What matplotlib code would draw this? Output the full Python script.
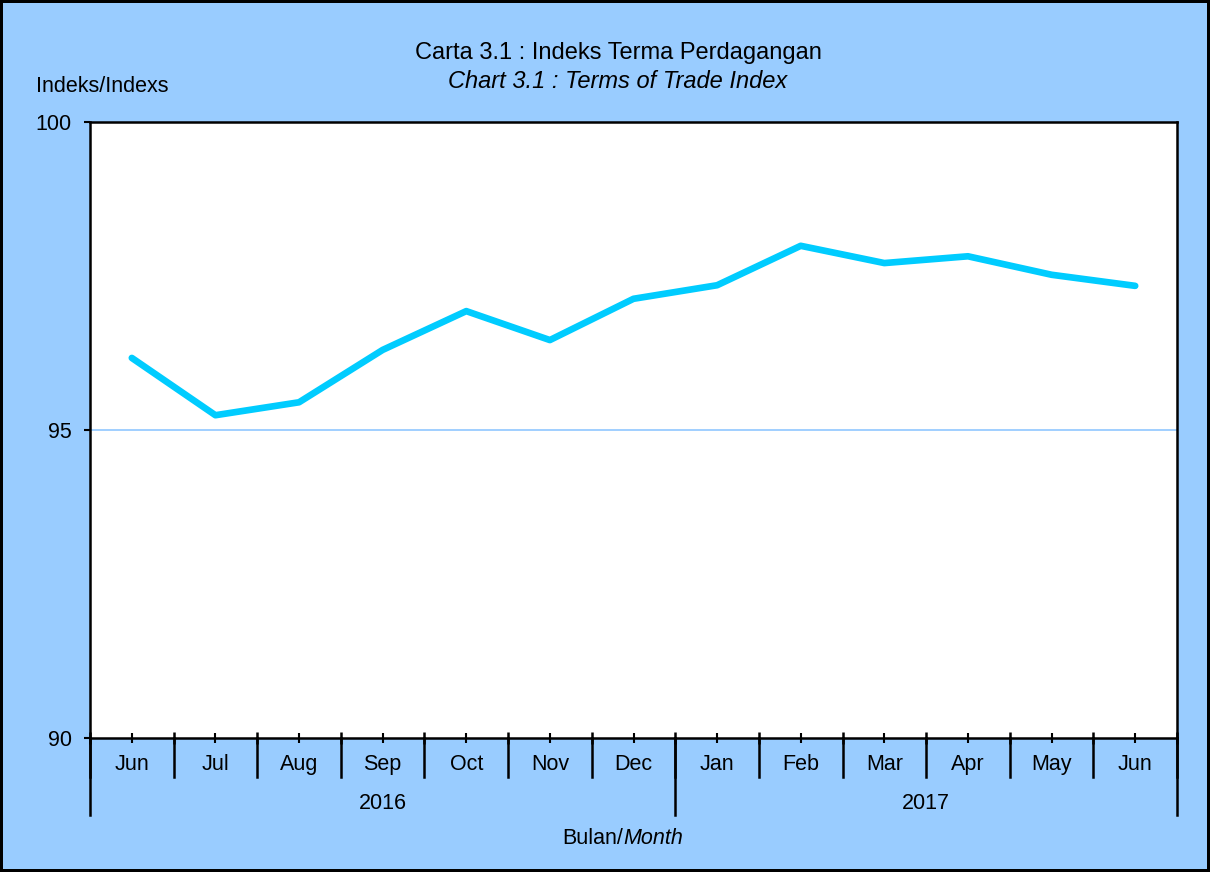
import matplotlib
matplotlib.use("Agg")
import matplotlib.pyplot as plt
import matplotlib.transforms as mtransforms
from matplotlib.lines import Line2D

plt.rcParams['font.family'] = ['Liberation Sans', 'DejaVu Sans']

months = ["Jun", "Jul", "Aug", "Sep", "Oct", "Nov", "Dec",
          "Jan", "Feb", "Mar", "Apr", "May", "Jun"]
years = ["2016", "2017"]
year_counts = [7, 6]
values = [96.17, 95.24, 95.45, 96.30, 96.93, 96.46, 97.13,
          97.35, 97.99, 97.71, 97.82, 97.52, 97.34]
yticks = [90, 95, 100]

W, H = 1210, 872
LF = 15.5
fig = plt.figure(figsize=(W / 100, H / 100), dpi=100)
fig.patch.set_facecolor('#99CCFF')
fig.patch.set_edgecolor('black')
fig.patch.set_linewidth(4)

ax = fig.add_axes([90 / W, 1 - 738 / H, (1177 - 90) / W, (738 - 122) / H])
ax.set_facecolor('white')
x = list(range(len(months)))
ax.plot(x, values, color='#00CCFF', lw=4.8, solid_capstyle='round', zorder=3)
ax.axhline(95, color='#99CCFF', lw=1.3, zorder=1)
ax.set_xlim(-0.5, len(months) - 0.5)
ax.set_ylim(90, 100)
ax.set_yticks(yticks)
ax.set_yticklabels([str(v) for v in yticks], fontsize=LF)
ax.tick_params(axis='y', direction='out', length=4, width=1.5, pad=9)
for s in ax.spines.values():
    s.set_linewidth(1.8)
    s.set_color('black')

# x ticks: small ticks at centers, separators at boundaries
ax.set_xticks(x)
ax.set_xticklabels([])
ax.tick_params(axis='x', which='major', direction='inout', length=7, width=1.5)
ax.set_xticks([i - 0.5 for i in range(len(months) + 1)], minor=True)
ax.tick_params(axis='x', which='minor', direction='inout', length=8, width=1.8)

trans = mtransforms.blended_transform_factory(ax.transData, ax.transAxes)
sep_low = -(777 - 738) / 616
year_low = -(815 - 738) / 616
for i in range(len(months) + 1):
    ax.add_line(Line2D([i - 0.5, i - 0.5], [0, sep_low], transform=trans,
                       color='black', lw=1.8, clip_on=False))
for i, m in enumerate(months):
    ax.text(i, -(764 - 738) / 616, m, transform=trans, ha='center', va='center',
            fontsize=LF)
start = 0
bounds = [0]
for yr, c in zip(years, year_counts):
    ax.text(start + c / 2 - 0.5, -(803 - 738) / 616, yr, transform=trans,
            ha='center', va='center', fontsize=LF)
    start += c
    bounds.append(start)
for b in bounds:
    ax.add_line(Line2D([b - 0.5, b - 0.5], [0, year_low], transform=trans,
                       color='black', lw=1.8, clip_on=False))

fig.text(618 / W, 1 - 53 / H, "Carta 3.1 : Indeks Terma Perdagangan",
         ha='center', va='center', fontsize=17)
fig.text(618 / W, 1 - 82 / H, "Chart 3.1 : Terms of Trade Index",
         ha='center', va='center', fontsize=17, style='italic')
fig.text(36 / W, 1 - 86 / H, "Indeks/Indexs", ha='left', va='center', fontsize=LF)
fig.text(623 / W, 1 - 838 / H, "Bulan/", ha='right', va='center', fontsize=LF)
fig.text(623 / W, 1 - 838 / H, "Month", ha='left', va='center', fontsize=LF,
         style='italic')

fig.savefig("out.png", dpi=100, facecolor=fig.get_facecolor(),
            edgecolor=fig.get_edgecolor())
